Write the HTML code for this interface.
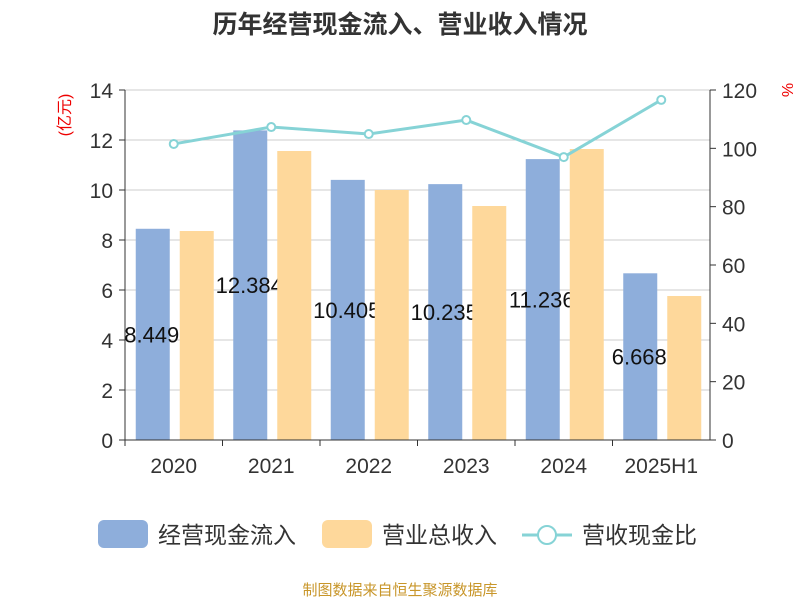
<!DOCTYPE html>
<html><head><meta charset="utf-8"><style>
body{margin:0;background:#fff;}
svg text{font-family:"Liberation Sans","Noto Sans CJK SC",sans-serif;}
</style></head><body>
<svg id="chart" width="800" height="600">
<text x="400" y="33" text-anchor="middle" font-size="25" font-weight="bold" fill="#333">历年经营现金流入、营业收入情况</text>
<text transform="translate(70,115) rotate(-90)" text-anchor="middle" font-size="16" fill="#e00">(亿元)</text>
<text transform="translate(782,90) rotate(90)" text-anchor="middle" font-size="16" fill="#e00">%</text>
<g id="grid"></g><g id="blue"></g><g id="labels"></g><g id="orange"></g><g id="axes"></g><g id="line"></g>
<g>
<rect x="98" y="520" width="50" height="28" rx="6" fill="#8eaedb"/>
<text x="158" y="543" font-size="23" fill="#333">经营现金流入</text>
<rect x="322" y="520" width="50" height="28" rx="6" fill="#fed89b"/>
<text x="382" y="543" font-size="23" fill="#333">营业总收入</text>
<line x1="522" y1="535" x2="572" y2="535" stroke="#86d3d6" stroke-width="3"/>
<circle cx="547" cy="535" r="9" fill="#fff" stroke="#86d3d6" stroke-width="2"/>
<text x="582" y="543" font-size="23" fill="#333">营收现金比</text>
</g>
<text x="400" y="595" text-anchor="middle" font-size="15" fill="#c8962a">制图数据来自恒生聚源数据库</text>
</svg>
<script>
const categories=["2020","2021","2022","2023","2024","2025H1"];
const inflow=[8.449,12.384,10.405,10.235,11.236,6.668];
const inflowLabels=["8.449","12.384","10.405","10.235","11.236","6.668"];
const revenue=[8.36,11.56,10.0,9.36,11.64,5.76];
const ratio=[101.5,107.3,104.9,109.7,97.0,116.6];
const leftTicks=[0,2,4,6,8,10,12,14];
const rightTicks=[0,20,40,60,80,100,120];
const NS="http://www.w3.org/2000/svg";
const X0=125,X1=710,Y0=440,Y1=90;
const band=(X1-X0)/categories.length;
const yL=v=>Y0-(v/14)*(Y0-Y1);
const yR=v=>Y0-(v/120)*(Y0-Y1);
const xC=i=>X0+band*(i+0.5);
function mk(t,a,p){const e=document.createElementNS(NS,t);for(const k in a)e.setAttribute(k,a[k]);document.getElementById(p).appendChild(e);return e;}
leftTicks.forEach(v=>{
 if(v>0){const g=mk("line",{x1:X0,x2:X1,y1:yL(v),y2:yL(v),stroke:"#ccc","stroke-width":1},"grid");
 
 }
 const t=mk("text",{x:X0-12,y:yL(v)+8,"text-anchor":"end","font-size":21,fill:"#333"},"axes");t.textContent=v;
 
 
 const tk=mk("line",{x1:X0-6,x2:X0,y1:yL(v),y2:yL(v),stroke:"#333"},"axes");
 
 
});
rightTicks.forEach(v=>{
 const t=mk("text",{x:X1+12,y:yR(v)+8,"font-size":21,fill:"#333"},"axes");t.textContent=v;
 
 
 const tk=mk("line",{x1:X1,x2:X1+6,y1:yR(v),y2:yR(v),stroke:"#333"},"axes");
 
 
});
[[X0,Y1,X0,Y0],[X1,Y1,X1,Y0],[X0,Y0,X1,Y0]].forEach(c=>{const l=mk("line",{x1:c[0],y1:c[1],x2:c[2],y2:c[3],stroke:"#333"},"axes");
 
 });
categories.forEach((c,i)=>{
 const tk=mk("line",{x1:X0+band*i,x2:X0+band*i,y1:Y0,y2:Y0+6,stroke:"#333"},"axes");
 
 
 const t=mk("text",{x:xC(i),y:Y0+33,"text-anchor":"middle","font-size":21,fill:"#333"},"axes");t.textContent=c;
 
 
 const b=mk("rect",{x:xC(i)-38,y:yL(inflow[i]),width:34,height:Y0-yL(inflow[i]),fill:"#8eaedb"},"blue");
 
 
 const lb=mk("text",{x:xC(i)-22,y:(yL(inflow[i])+Y0)/2+8,"text-anchor":"middle","font-size":22,fill:"#111"},"labels");lb.textContent=inflowLabels[i];
 
 
 const o=mk("rect",{x:xC(i)+6,y:yL(revenue[i]),width:34,height:Y0-yL(revenue[i]),fill:"#fed89b"},"orange");
 
 
});
const pts=ratio.map((v,i)=>xC(i)+","+yR(v)).join(" ");
const pl=mk("polyline",{points:pts,fill:"none",stroke:"#86d3d6","stroke-width":3},"line");


ratio.forEach((v,i)=>{const p=mk("circle",{cx:xC(i),cy:yR(v),r:4,fill:"#fff",stroke:"#86d3d6","stroke-width":2},"line");
 
 });
</script>
</body></html>
